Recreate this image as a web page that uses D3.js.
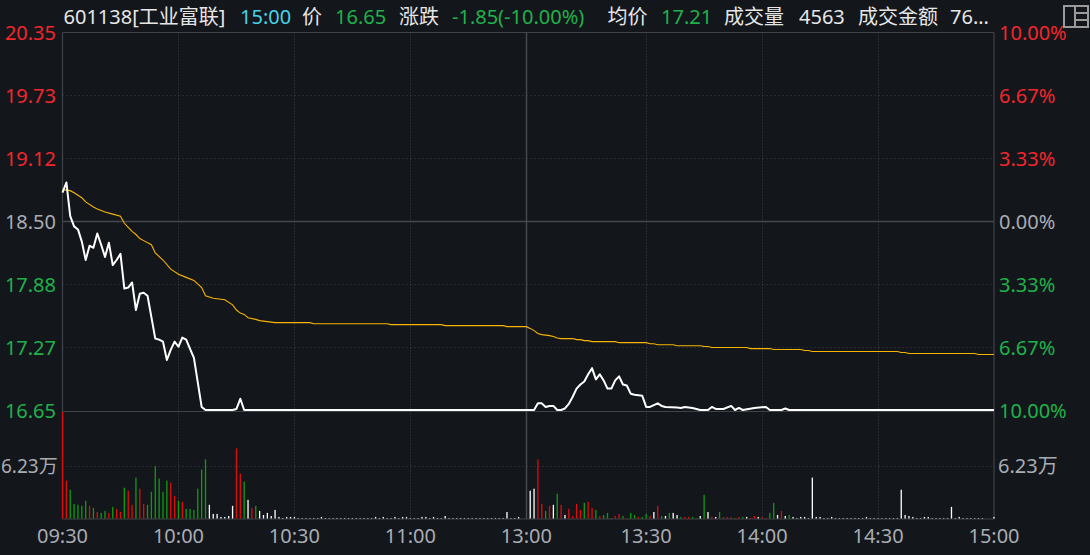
<!DOCTYPE html>
<html><head><meta charset="utf-8">
<script src="https://cdn.jsdelivr.net/npm/d3@7"></script>
<style>
html,body{margin:0;padding:0;background:#13161b;overflow:hidden;}
svg{display:block;}
text{font-family:"Noto Sans","Noto Sans CJK SC",sans-serif;}
</style></head><body>
<svg id="c" width="1090" height="555"></svg>
<script>
// ---------- data ----------
const stockCode = "601138", stockName = "工业富联", quoteTime = "15:00";
const lastPrice = "16.65", change = "-1.85", changePct = "-10.00%", avgPrice = "17.21";
const volumeText = "4563", amountText = "76...";
const preClose = 18.50;
const pctTicks = [10, 6.67, 3.33, 0, -3.33, -6.67, -10];
const priceTickLabels = ["20.35","19.73","19.12","18.50","17.88","17.27","16.65"];
const pctTickLabels = ["10.00%","6.67%","3.33%","0.00%","3.33%","6.67%","10.00%"];
const timeTicks = [0, 30, 60, 90, 120, 151, 181, 211, 241];
const timeLabels = ["09:30","10:00","10:30","11:00","13:00","13:30","14:00","14:30","15:00"];
const volMax = 12.46, volTick = 6.23, volTickLabel = "6.23万";

// price line vertices [minute slot, price]
const pricePoints = [
 [0,18.78],[1,18.88],[2,18.55],[3,18.45],[4,18.42],[5,18.30],[6,18.12],[7,18.26],[8,18.24],[9,18.38],
 [10,18.27],[11,18.15],[12,18.29],[13,18.07],[14,18.12],[15,18.18],[16,17.84],[17,17.85],[18,17.90],[19,17.63],
 [20,17.79],[21,17.80],[22,17.77],[23,17.56],[24,17.35],[25,17.34],[26,17.32],[27,17.14],[28,17.24],[29,17.32],
 [30,17.27],[31,17.36],[32,17.34],[33,17.25],[34,17.16],[35,16.92],[36,16.68],[37,16.65],[44,16.65],[45,16.66],
 [46,16.76],[47,16.65],[122,16.65],[123,16.715],[124,16.715],[125,16.68],[126,16.69],[127,16.69],[128,16.65],[129,16.65],
 [130,16.665],[131,16.71],[132,16.78],[133,16.86],[134,16.90],[135,16.93],[136,17.00],[137,17.06],[138,16.95],[139,17.00],
 [140,16.94],[141,16.86],[142,16.86],[143,16.94],[144,16.98],[145,16.90],[146,16.89],[147,16.81],[148,16.80],[150,16.79],
 [151,16.68],[152,16.68],[154,16.715],[155,16.69],[156,16.68],[159,16.675],[160,16.67],[161,16.68],[163,16.67],[165,16.65],
 [167,16.65],[168,16.68],[169,16.66],[171,16.66],[173,16.69],[174,16.65],[175,16.67],[176,16.65],[179,16.67],[182,16.68],
 [183,16.65],[186,16.65],[187,16.665],[188,16.65],[241,16.65]
];
// average price line vertices [minute slot, price]
const avgPoints = [
 [0,18.81],[2,18.80],[3,18.78],[5,18.73],[6,18.69],[8,18.64],[9,18.62],[11,18.59],[13,18.57],[15,18.55],
 [16,18.48],[17,18.44],[18,18.40],[19,18.37],[20,18.33],[21,18.31],[23,18.27],[24,18.19],[26,18.12],[28,18.03],
 [30,17.98],[32,17.95],[34,17.92],[36,17.85],[37,17.77],[39,17.745],[42,17.73],[44,17.68],[45,17.63],[46,17.60],
 [47,17.587],[48,17.555],[50,17.538],[51,17.526],[53,17.516],[55,17.506],[64,17.506],[65,17.496],[84,17.496],[85,17.487],
 [98,17.487],[99,17.477],[114,17.477],[115,17.467],[120,17.467],[121,17.45],[122,17.428],[123,17.40],[124,17.389],[126,17.379],
 [127,17.37],[128,17.356],[129,17.35],[132,17.35],[133,17.34],[134,17.34],[135,17.33],[136,17.33],[137,17.32],[143,17.32],
 [144,17.31],[151,17.31],[152,17.30],[153,17.30],[154,17.29],[158,17.29],[159,17.28],[165,17.28],[166,17.272],[167,17.272],
 [168,17.262],[177,17.262],[178,17.252],[183,17.252],[184,17.243],[191,17.243],[192,17.233],[193,17.233],[194,17.223],[216,17.223],
 [217,17.213],[218,17.213],[219,17.204],[236,17.204],[237,17.194],[241,17.194]
];
// volume per minute slot (万), 242 slots
const volumes = [
 14,4.47,3.41,1.76,1.65,1.53,2.12,1.53,1.29,0.82,
 0.71,0.94,0.71,1.41,1.18,0.82,3.64,3.29,1.65,4.82,
 3.53,1.76,1.65,3.17,6.15,4.70,3.17,4.47,4.23,2.70,
 2.12,2.00,1.18,1.18,1.06,3.53,5.76,6.94,1.65,0.59,
 0.59,0.24,0.24,0.35,1.53,8.23,5.29,4.35,2.23,1.29,
 1.53,0.94,0.47,0.71,0.35,1.06,0.24,0.12,0.24,0.24,
 0.24,0.12,0.12,0.12,0.12,0.12,0.12,0.24,0.12,0.12,
 0.12,0.12,0.12,0.12,0.12,0.12,0.12,0.12,0.12,0.12,
 0.12,0.24,0.12,0.24,0.12,0.12,0.24,0.12,0.24,0.24,
 0.12,0.12,0.12,0.24,0.24,0.12,0.24,0.12,0.12,0.35,
 0.12,0.12,0.12,0.12,0.12,0.12,0.12,0.12,0.12,0.12,
 0.12,0.12,0.12,0.12,0.12,0.82,0.12,0.12,0.24,0,
 0,3.29,3.53,6.94,1.76,0.94,1.53,1.65,2.94,1.65,
 0.47,1.18,0.35,1.76,1.06,1.88,2.00,1.29,1.06,0.35,
 0.47,0.71,0.12,0.35,0.59,0.35,0.12,0.71,0.47,0.24,
 0.24,0.59,0.35,0.82,1.53,0.35,0.35,0.71,0.71,0.47,
 0.24,0.24,0.24,0.24,0.12,0.35,2.82,0.82,0.24,0.24,
 0.82,0.24,0.24,0.24,0.12,0.24,0.24,0.24,0.12,0.35,
 0.24,0.24,0.12,0.71,1.88,0.47,0.94,0.35,0.47,0.24,
 0.12,0.24,0.24,0.12,4.82,0.24,0.24,0.12,0.12,0.24,
 0.12,0.12,0.12,0.12,0.12,0.12,0.12,0.12,0.24,0.12,
 0.12,0.12,0.12,0.12,0.12,0.12,0.12,3.41,0.47,0.35,
 0.24,0.12,0.12,0.24,0.24,0.12,0.12,0.12,0.12,0.12,
 1.41,0.12,0.24,0.12,0.12,0.12,0.12,0.12,0.12,0,
 0,0.24
];
// bar direction per slot: r = up, g = down, w = unchanged
const volDir = [
 "rrgggggrgr","ggrgrrgrrg","rrggggggrr","grggggggww","wwwwwrrgwr","gwwwwwwwww",
 "wwwwwwwwww","wwwwwwwwww","wwwwwwwwww","wwwwwwwwww","wwwwwwwwww","wwwwwwwwww",
 "wwwrrgrwgr","wrrrrgrrgr","gggrrgrggr","ggrwrgwgww","grrggwgwrw","grrrgrgwrr",
 "wrrggwrwgw","wwwwwwwwww","wwwwwwwwww","wwwwwwwwww","wwwwwwwwww","wwwwwwwwww","ww"
].join("").split("");

// ---------- drawing ----------
const C = {bg:"#13161b", grid:"#3e4148", border:"#404349", red:"#f2262c", green:"#1fb24a",
  grey:"#a9acb2", white:"#e6e6e6", cyan:"#48d3e6", barR:"#e00b0b", barG:"#0f9c12", barW:"#ffffff",
  avg:"#f7b400"};
const svg = d3.select("#c");
svg.append("rect").attr("width",1090).attr("height",555).attr("fill",C.bg);

const L = 62.5, R = 994, T = 32.5, PB = 410, SEP = 411.5, VB = 519;
const x = d3.scaleLinear().domain([0, 241]).range([L, R]);
const y = d3.scaleLinear().domain([preClose*0.9, preClose*1.1]).range([PB, T]);
const yv = d3.scaleLinear().domain([0, volMax]).range([VB, 412]).clamp(true);
const pctY = p => y(preClose*(1+p/100));

const g = svg.append("g");
// horizontal price grid
pctTicks.forEach((p,i) => {
  if (i === 0 || i === pctTicks.length-1) return;
  const yy = Math.round(pctY(p)) + 0.5;
  g.append("line").attr("x1",L).attr("x2",R).attr("y1",yy).attr("y2",yy)
   .attr("stroke", p === 0 ? "#45484e" : C.grid)
   .attr("stroke-width", p === 0 ? 1.5 : 1)
   .attr("stroke-dasharray", p === 0 ? null : "1,3");
});
// volume grid
{
  const yy = Math.round(yv(volTick)) + 0.5;
  g.append("line").attr("x1",L).attr("x2",R).attr("y1",yy).attr("y2",yy)
   .attr("stroke",C.grid).attr("stroke-dasharray","1,3");
}
// vertical grid
timeTicks.forEach((t,i) => {
  if (i === 0 || i === timeTicks.length-1) return;
  const xx = Math.round(x(t)) + 0.5;
  const solid = timeLabels[i] === "13:00";
  g.append("line").attr("x1",xx).attr("x2",xx).attr("y1",T).attr("y2",VB)
   .attr("stroke", solid ? "#45484e" : C.grid)
   .attr("stroke-width", solid ? 1.5 : 1)
   .attr("stroke-dasharray", solid ? null : "1,2");
});
// borders
[[L,T,R,T],[L,SEP,R,SEP],[L,VB,R,VB],[L,T,L,VB],[R,T,R,VB]].forEach(d=>{
  g.append("line").attr("x1",d[0]).attr("y1",d[1]).attr("x2",d[2]).attr("y2",d[3])
   .attr("stroke",C.border).attr("stroke-width",1.2);
});

// volume bars
const barColor = {r:C.barR, g:C.barG, w:C.barW};
svg.append("g").selectAll("rect").data(volumes.map((v,i)=>({v,i,d:volDir[i]})).filter(d=>d.v>0))
  .join("rect")
  .attr("x", d => x(d.i) - 0.65)
  .attr("width", 1.3)
  .attr("y", d => yv(d.v))
  .attr("height", d => VB - 0.5 - yv(d.v))
  .attr("fill", d => barColor[d.d]);

// average line
svg.append("path").datum(avgPoints)
  .attr("d", d3.line().x(d=>x(d[0])).y(d=>y(d[1])))
  .attr("fill","none").attr("stroke",C.avg).attr("stroke-width",1.1);
// price line
svg.append("path").datum(pricePoints)
  .attr("d", d3.line().x(d=>x(d[0])).y(d=>y(d[1])))
  .attr("fill","none").attr("stroke","#ffffff").attr("stroke-width",2)
  .attr("stroke-linejoin","round");

// axis labels
const tickColor = p => p > 0 ? C.red : (p < 0 ? C.green : C.grey);
pctTicks.forEach((p,i) => {
  svg.append("text").attr("x",56).attr("y",pctY(p)).attr("text-anchor","end")
    .attr("dominant-baseline","central").attr("font-size",20).attr("fill",tickColor(p))
    .text(priceTickLabels[i]);
  svg.append("text").attr("x",999).attr("y",pctY(p)).attr("text-anchor","start")
    .attr("dominant-baseline","central").attr("font-size",20).attr("fill",tickColor(p))
    .text(pctTickLabels[i]);
});
svg.append("text").attr("x",1).attr("y",yv(volTick)).attr("text-anchor","start")
  .attr("dominant-baseline","central").attr("font-size",19).attr("fill",C.grey).text(volTickLabel);
svg.append("text").attr("x",998).attr("y",yv(volTick)).attr("text-anchor","start")
  .attr("dominant-baseline","central").attr("font-size",20).attr("fill",C.grey).text(volTickLabel);
timeTicks.forEach((t,i) => {
  svg.append("text").attr("x",x(t)).attr("y",543).attr("text-anchor","middle")
    .attr("font-size",20).attr("fill",C.grey).text(timeLabels[i]);
});

// header
const header = [
  [63.5, stockCode + "[" + stockName + "]", C.white],
  [240, quoteTime, C.cyan],
  [302, "价", C.white],
  [335, lastPrice, C.green],
  [399, "涨跌", C.white],
  [452, change + "(" + changePct + ")", C.green],
  [607.5, "均价", C.white],
  [661, avgPrice, C.green],
  [724, "成交量", C.white],
  [799, volumeText, C.white],
  [858, "成交金额", C.white],
  [950, amountText, C.white]
];
header.forEach(h => {
  svg.append("text").attr("x",h[0]).attr("y",24).attr("font-size",20)
    .attr("fill",h[2]).text(h[1]);
});
// layout icon (top right)
const ic = svg.append("g").attr("fill","none").attr("stroke","#9a9a9a").attr("stroke-width",2);
ic.append("rect").attr("x",1064).attr("y",6).attr("width",24).attr("height",21);
ic.append("line").attr("x1",1075).attr("x2",1075).attr("y1",6).attr("y2",27);
ic.append("line").attr("x1",1075).attr("x2",1088).attr("y1",13).attr("y2",13);
ic.append("line").attr("x1",1075).attr("x2",1088).attr("y1",20).attr("y2",20);
</script>
</body></html>
